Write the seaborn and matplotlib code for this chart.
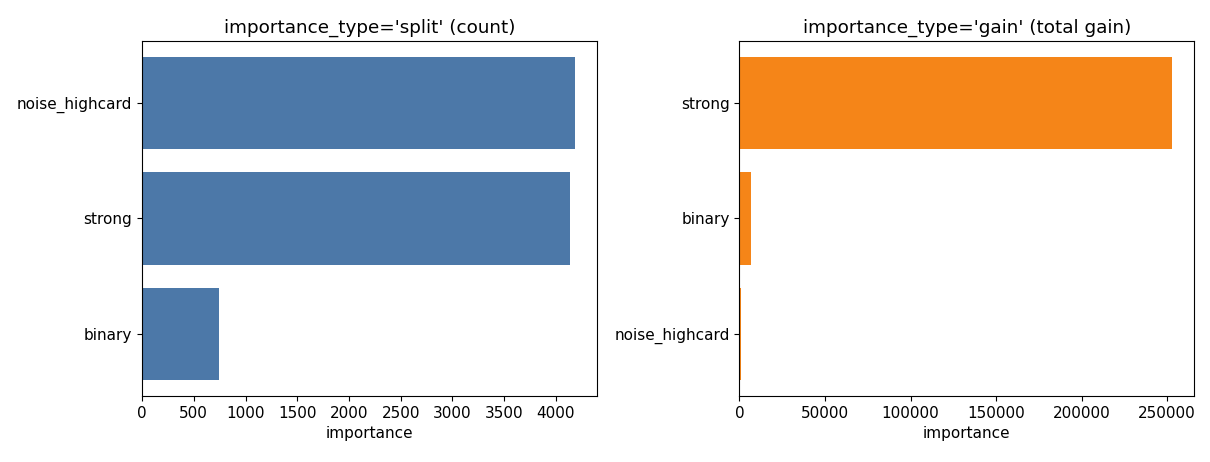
import matplotlib
matplotlib.use("Agg")
import matplotlib.pyplot as plt
import seaborn as sns

# split counts (top to bottom)
split_features = ["noise_highcard", "strong", "binary"]
split_values = [4185, 4135, 745]

# total gain (top to bottom)
gain_features = ["strong", "binary", "noise_highcard"]
gain_values = [253000, 6700, 700]

fig, axes = plt.subplots(1, 2, figsize=(12.1, 4.62), dpi=100)
plt.subplots_adjust(left=0.1174, right=0.9868, bottom=0.1429, top=0.9113, wspace=0.314)

sns.barplot(x=split_values, y=split_features, color="#4c78a8", saturation=1,
            width=0.8, ax=axes[0])
axes[0].set_title("importance_type='split' (count)", fontsize=13.2)

sns.barplot(x=gain_values, y=gain_features, color="#f58518", saturation=1,
            width=0.8, ax=axes[1])
axes[1].set_title("importance_type='gain' (total gain)", fontsize=13.2)

for ax in axes:
    ax.set_xlabel("importance", fontsize=11)
    ax.set_ylabel("")
    ax.set_ylim(2.54, -0.54)
    ax.tick_params(labelsize=11)

axes[0].set_xlim(0, max(split_values) * 1.05)
axes[1].set_xlim(0, max(gain_values) * 1.05)

fig.savefig("out.png", dpi=100)
